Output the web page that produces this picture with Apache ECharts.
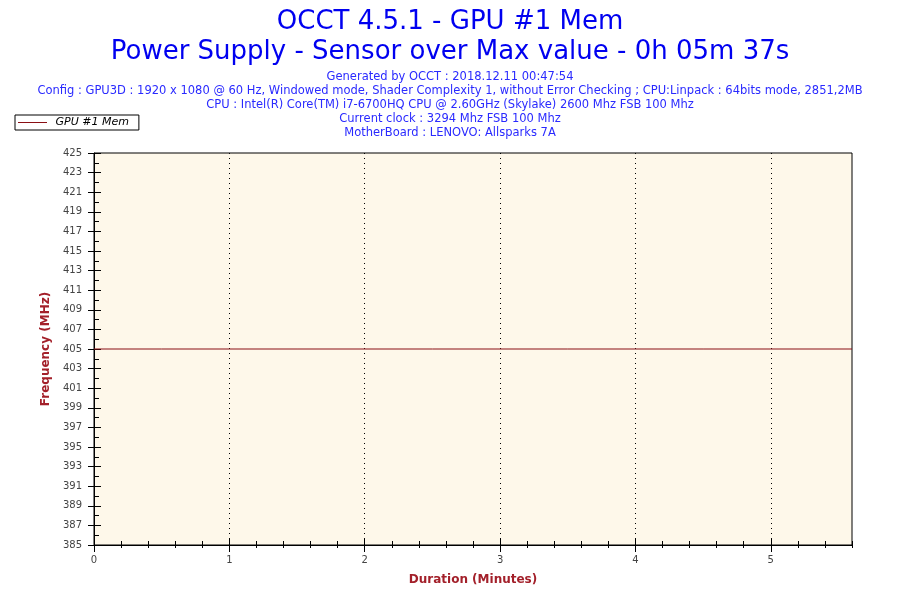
<!DOCTYPE html>
<html>
<head>
<meta charset="utf-8">
<script src="https://cdn.jsdelivr.net/npm/echarts@6/dist/echarts.min.js"></script>
<style>
  html, body { margin: 0; padding: 0; background: #fff; }
  #main { width: 900px; height: 600px; }
</style>
</head>
<body>
<div id="main"></div>
<script>
var titleLines = ['OCCT 4.5.1 - GPU #1 Mem', 'Power Supply - Sensor over Max value - 0h 05m 37s'];
var infoLines = [
    'Generated by OCCT : 2018.12.11 00:47:54',
    'Config : GPU3D : 1920 x 1080 @ 60 Hz, Windowed mode, Shader Complexity 1, without Error Checking ; CPU:Linpack : 64bits mode, 2851,2MB',
    'CPU : Intel(R) Core(TM) i7-6700HQ CPU @ 2.60GHz (Skylake) 2600 Mhz FSB 100 Mhz',
    'Current clock : 3294 Mhz FSB 100 Mhz',
    'MotherBoard : LENOVO: Allsparks 7A'
];
var seriesName = 'GPU #1 Mem';
// time in minutes, frequency in MHz (flat line)
var times = [0, 0.5, 1, 1.5, 2, 2.5, 3, 3.5, 4, 4.5, 5, 5.6];
var values = [405, 405, 405, 405, 405, 405, 405, 405, 405, 405, 405, 405];
var xMajorTicks = [0, 1, 2, 3, 4, 5];
var yMin = 385, yMax = 425, xMax = 5.6;

var pts = [];
for (var i = 0; i < times.length; i++) {
    pts.push([times[i], values[i]]);
}

var myChart = echarts.init(document.getElementById('main'));

var font = 'DejaVu Sans, Verdana, sans-serif';
var tickLine = { color: '#000', width: 1 };

var option = {
    animation: false,
    title: [
        {
            text: titleLines.join('\n'),
            left: 'center',
            top: 2,
            textStyle: { color: '#0000f0', fontFamily: font, fontSize: 26, fontWeight: 'normal', lineHeight: 30 }
        },
        {
            text: infoLines.join('\n'),
            left: 'center',
            top: 65,
            textStyle: { color: '#2a2aff', fontFamily: font, fontSize: 11.5, fontWeight: 'normal', lineHeight: 14 }
        }
    ],
    legend: {
        left: 15,
        top: 115,
        orient: 'vertical',
        data: [seriesName],
        formatter: ' {name}',
        icon: 'rect',
        itemWidth: 29,
        itemHeight: 1,
        itemGap: 0,
        padding: [2, 10, 2, 3],
        borderColor: '#000',
        borderWidth: 1,
        borderRadius: 0,
        textStyle: { color: '#000', fontFamily: font, fontSize: 11, fontStyle: 'italic' }
    },
    grid: {
        left: 94,
        right: 48,
        top: 153,
        bottom: 55,
        show: true,
        backgroundColor: '#fef8ea',
        borderColor: '#000',
        borderWidth: 1
    },
    xAxis: [
        {
            type: 'value',
            min: 0,
            max: xMax,
            interval: 1,
            position: 'bottom',
            name: 'Duration (Minutes)',
            nameLocation: 'middle',
            nameGap: 29,
            nameTextStyle: { color: '#a3202a', fontFamily: font, fontSize: 12, fontWeight: 'bold' },
            axisLine: { show: true, lineStyle: tickLine },
            axisTick: { show: true, length: 7, lineStyle: tickLine, customValues: xMajorTicks },
            axisLabel: { color: '#444', fontFamily: font, fontSize: 10, margin: 10, customValues: xMajorTicks },
            splitLine: { show: true, lineStyle: { color: '#000', type: [1, 4], width: 1 } }
        },
        {
            type: 'value',
            min: 0,
            max: xMax,
            interval: 1,
            position: 'bottom',
            axisLine: { show: false },
            axisTick: { show: true, inside: true, length: 7, lineStyle: tickLine, customValues: xMajorTicks },
            axisLabel: { show: false },
            splitLine: { show: false }
        },
        {
            type: 'value',
            min: 0,
            max: xMax,
            interval: 0.2,
            position: 'bottom',
            axisLine: { show: false },
            axisTick: { show: true, inside: true, length: 4, lineStyle: tickLine },
            axisLabel: { show: false },
            splitLine: { show: false }
        },
        {
            type: 'value',
            min: 0,
            max: xMax,
            interval: 0.2,
            position: 'bottom',
            axisLine: { show: false },
            axisTick: { show: true, length: 3, lineStyle: tickLine },
            axisLabel: { show: false },
            splitLine: { show: false }
        }
    ],
    yAxis: [
        {
            type: 'value',
            min: yMin,
            max: yMax,
            interval: 2,
            position: 'left',
            name: 'Frequency (MHz)',
            nameLocation: 'middle',
            nameGap: 38,
            nameTextStyle: { color: '#a3202a', fontFamily: font, fontSize: 12, fontWeight: 'bold' },
            axisLine: { show: true, lineStyle: tickLine },
            axisTick: { show: true, length: 6, lineStyle: tickLine },
            axisLabel: { color: '#444', fontFamily: font, fontSize: 10, margin: 12 },
            splitLine: { show: false }
        },
        {
            type: 'value',
            min: yMin,
            max: yMax,
            interval: 2,
            position: 'left',
            axisLine: { show: false },
            axisTick: { show: true, inside: true, length: 7, lineStyle: tickLine },
            axisLabel: { show: false },
            splitLine: { show: false }
        },
        {
            type: 'value',
            min: yMin,
            max: yMax,
            interval: 1,
            position: 'left',
            axisLine: { show: false },
            axisTick: { show: true, inside: true, length: 5, lineStyle: tickLine },
            axisLabel: { show: false },
            splitLine: { show: false }
        }
    ],
    series: [
        {
            name: seriesName,
            type: 'line',
            data: pts,
            showSymbol: false,
            symbol: 'none',
            itemStyle: { color: '#8a0f14' },
            lineStyle: { color: '#8a0f14', width: 1 }
        }
    ]
};

myChart.setOption(option);
</script>
</body>
</html>
